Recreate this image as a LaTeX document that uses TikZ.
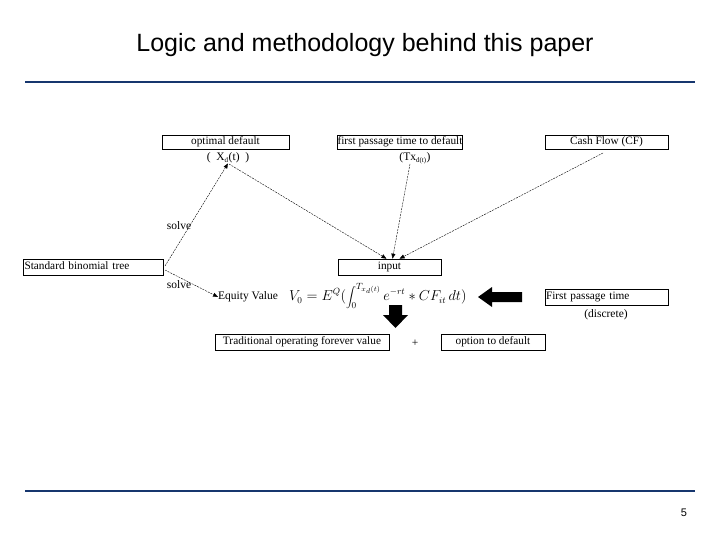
\documentclass[tikz,border=0pt]{standalone}
\usepackage{fontspec}
\setmainfont{Liberation Serif}
\newfontfamily\titlefont{Liberation Sans}
\usetikzlibrary{arrows.meta}
\definecolor{navy}{RGB}{22,54,110}
\begin{document}
\begin{tikzpicture}[x=1pt,y=-1pt,
  bx/.style={draw,line width=0.6pt,inner sep=0pt,text height=8pt,text depth=2.5pt,font=\fontsize{11.3}{13}\selectfont},
  lbl/.style={inner sep=0pt,font=\fontsize{11.5}{13}\selectfont},
  dl/.style={line width=0.4pt,dash pattern=on 2pt off 1pt,-{Triangle[length=5pt,width=4pt]}},
  bigarrow/.style={fill=black,draw=none}]
\useasboundingbox (0,0) rectangle (720,540);
% title and rules
\node[inner sep=0pt,font=\titlefont\fontsize{25}{28}\selectfont] (title) at (365,45) {Logic and methodology behind this paper};
\draw[navy,line width=2.5pt] (25,82) -- (695,82);
\draw[navy,line width=2.5pt] (25,491) -- (695,491);
\node[inner sep=0pt,font=\titlefont\fontsize{11}{12}\selectfont] (pg) at (684,513) {5};
% top boxes
\node[bx,minimum width=127pt,minimum height=14pt] (opt) at (225.5,142) {optimal default};
\node[lbl] (xd) at (228,158) {(\ \ X\textsubscript{\fontsize{7}{8}\selectfont d}(t)\ \ )};
\node[bx,minimum width=124pt,minimum height=14pt] (fpt) at (400,142) {first passage time to default};
\node[lbl] (txd) at (415,158) {(Tx\textsubscript{\fontsize{7}{8}\selectfont d(t)})};
\node[bx,minimum width=123pt,minimum height=14pt] (cf) at (606.5,142) {Cash Flow (CF)};
% middle
\node[bx,minimum width=140pt,minimum height=16pt,text width=137pt,align=left] (sbt) at (93,267) {Standard binomial tree};
\node[bx,minimum width=103pt,minimum height=16pt] (inp) at (389.5,267) {input};
\node[bx,minimum width=123pt,minimum height=16pt,text width=121pt,align=left] (fpd) at (606.5,297) {First passage time};
\node[lbl] (disc) at (606,315) {(discrete)};
\node[lbl,anchor=west] (eq) at (218,297) {Equity Value};
\node[inner sep=0pt,anchor=west,font=\fontsize{13.5}{15}\selectfont] (formula) at (289,296) {$\displaystyle V_0 = E^{Q}(\int_0^{T_{x_d(t)}} e^{-rt}*CF_{it}\,dt)$};
% bottom boxes
\node[bx,minimum width=174pt,minimum height=16pt] (trad) at (302,342) {Traditional operating forever value};
\node[lbl] (plus) at (415,343) {+};
\node[bx,minimum width=104pt,minimum height=16pt] (opd) at (493,342) {option to default};
% solve labels
\node[lbl] (s1) at (179,226) {solve};
\node[lbl] (s2) at (179,285) {solve};
% connectors
\coordinate (sbtA) at (165,266);
\coordinate (sbtB) at (165,270);
\coordinate (xdB) at (229,164);
\coordinate (txdB) at (410,164);
\coordinate (cfB) at (603,153);
\draw[dl] (sbtA) -- (xd.south);
\draw[dl] (sbtB) -- (eq.west);
\draw[dl] (xdB) -- ([xshift=-3pt]inp.north);
\draw[dl] (txdB) -- ([xshift=3pt]inp.north);
\draw[dl] (cfB) -- ([xshift=10pt]inp.north);
% thick arrows
\fill[bigarrow] (522,292) -- (492,292) -- (492,287) -- (478,297) -- (492,307) -- (492,302) -- (522,302) -- cycle;
\fill[bigarrow] (389,305) -- (402,305) -- (402,315) -- (408,315) -- (395.5,328) -- (383,315) -- (389,315) -- cycle;
\end{tikzpicture}
\end{document}
